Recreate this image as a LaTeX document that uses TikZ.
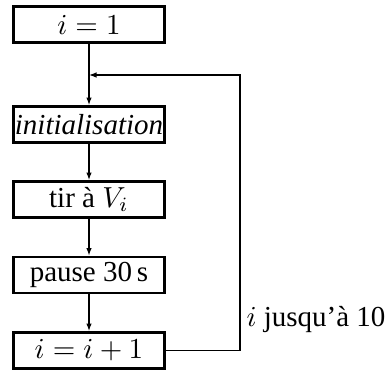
\documentclass[tikz,border=0pt]{standalone}
\usepackage{fontspec}
\setmainfont{Liberation Serif}
\usepackage{amsmath}
\usetikzlibrary{arrows.meta}
\begin{document}
\begin{tikzpicture}[x=0.345pt,y=-0.345pt]
\tikzset{etape/.style={draw, line width=1pt, minimum width=52pt, minimum height=12.4pt, inner sep=0pt}}
\useasboundingbox (0,0) rectangle (388,371);
\node[etape] (debut) at (89,24.5) {$i=1$};
\node[etape] (init) at (89,124.5) {\itshape initialisation};
\node[etape] (tir) at (89,199.5) {tir à $V_i$};
\node[etape] (pause) at (89,275) {pause 30\,s};
\node[etape] (incr) at (89,350.5) {$i=i+1$};
\coordinate (coin) at (240,75);
\draw [>={Latex[length=2.6pt,width=1.9pt]}, ->] (debut) -- (init);
\draw [>={Latex[length=2.6pt,width=1.9pt]}, ->] (init) -- (tir);
\draw [>={Latex[length=2.6pt,width=1.9pt]}, ->] (tir) -- (pause);
\draw [>={Latex[length=2.6pt,width=1.9pt]}, ->] (pause) -- (incr);
\draw [>={Latex[length=2.6pt,width=1.9pt]}, ->] (incr.east) -| (coin) -- (coin -| init.north);
\node[anchor=west, inner sep=0pt] (cond) at (246,319) {$i$ jusqu'à 10};
\end{tikzpicture}
\end{document}
